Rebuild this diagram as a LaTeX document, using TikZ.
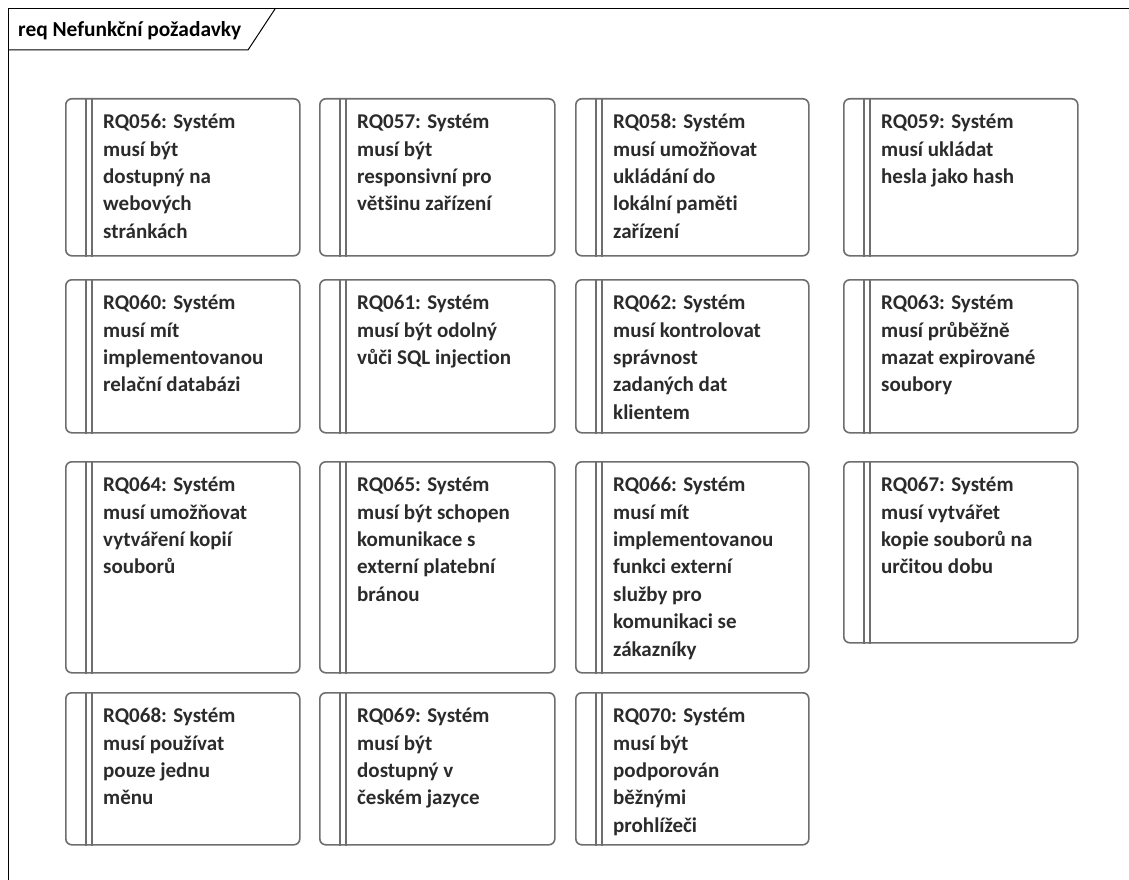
\documentclass[tikz,border=0pt]{standalone}
\usepackage{fontspec}
\setmainfont{Carlito}[Ligatures=NoCommon]
\definecolor{bordergray}{HTML}{6E6E6E}
\definecolor{txt}{HTML}{2B2B2B}
\tikzset{
  reqbox/.style={draw=bordergray, line width=1.6pt, fill=white, rounded corners=6pt, anchor=north west, inner sep=0pt},
  reqline/.style={draw=bordergray, line width=1.3pt},
  reqtext/.style={anchor=north west, inner sep=0pt, align=left, text=txt, font=\fontsize{21}{27.4}\selectfont\bfseries},
  frameline/.style={draw=black, line width=1pt},
}
\newcommand\reqbox[6]{%
  \node[reqbox, minimum width=#4pt, minimum height=#5pt] (#1) at (#2,#3) {};
  \draw[reqline] ([xshift=21pt]#1.north west) -- ([xshift=21pt]#1.south west);
  \draw[reqline] ([xshift=27pt]#1.north west) -- ([xshift=27pt]#1.south west);
  \node[reqtext] (#1t) at ([xshift=38pt,yshift=-16pt]#1.north west) {#6};
}
\begin{document}
\begin{tikzpicture}[x=1pt,y=-1pt]
\useasboundingbox (0,0) rectangle (1129,880);
\coordinate (ftr) at (1129,9);
\coordinate (ftl) at (8,9);
\coordinate (fbl) at (8,880);
\coordinate (hb) at (8,50);
\coordinate (hs) at (248,50);
\coordinate (ht) at (275,9);
\draw[frameline] (ftr) -- (ftl) -- (fbl);
\draw[frameline] (hb) -- (hs) -- (ht);
\node[anchor=base west, inner sep=0pt, text=black, font=\fontsize{21.4}{24}\selectfont\bfseries] (title) at (18,37) {req Nefunkční požadavky};

% row 1
\reqbox{r56}{65}{98}{234}{157}{RQ056: Systém\\musí být\\dostupný na\\webových\\stránkách}
\reqbox{r57}{319}{98}{235}{157}{RQ057: Systém\\musí být\\responsivní pro\\většinu zařízení}
\reqbox{r58}{575}{98}{233}{157}{RQ058: Systém\\musí umožňovat\\ukládání do\\lokální paměti\\zařízení}
\reqbox{r59}{843}{98}{234}{157}{RQ059: Systém\\musí ukládat\\hesla jako hash}
% row 2
\reqbox{r60}{65}{279}{234}{153}{RQ060: Systém\\musí mít\\implementovanou\\relační databázi}
\reqbox{r61}{319}{279}{235}{153}{RQ061: Systém\\musí být odolný\\vůči SQL injection}
\reqbox{r62}{575}{279}{233}{153}{RQ062: Systém\\musí kontrolovat\\správnost\\zadaných dat\\klientem}
\reqbox{r63}{843}{279}{234}{153}{RQ063: Systém\\musí průběžně\\mazat expirované\\soubory}
% row 3
\reqbox{r64}{65}{461}{234}{211}{RQ064: Systém\\musí umožňovat\\vytváření kopií\\souborů}
\reqbox{r65}{319}{461}{235}{211}{RQ065: Systém\\musí být schopen\\komunikace s\\externí platební\\bránou}
\reqbox{r66}{575}{461}{233}{211}{RQ066: Systém\\musí mít\\implementovanou\\funkci externí\\služby pro\\komunikaci se\\zákazníky}
\reqbox{r67}{843}{461}{234}{181}{RQ067: Systém\\musí vytvářet\\kopie souborů na\\určitou dobu}
% row 4
\reqbox{r68}{65}{692}{234}{152}{RQ068: Systém\\musí používat\\pouze jednu\\měnu}
\reqbox{r69}{319}{692}{235}{152}{RQ069: Systém\\musí být\\dostupný v\\českém jazyce}
\reqbox{r70}{575}{692}{233}{152}{RQ070: Systém\\musí být\\podporován\\běžnými\\prohlížeči}
\end{tikzpicture}
\end{document}
